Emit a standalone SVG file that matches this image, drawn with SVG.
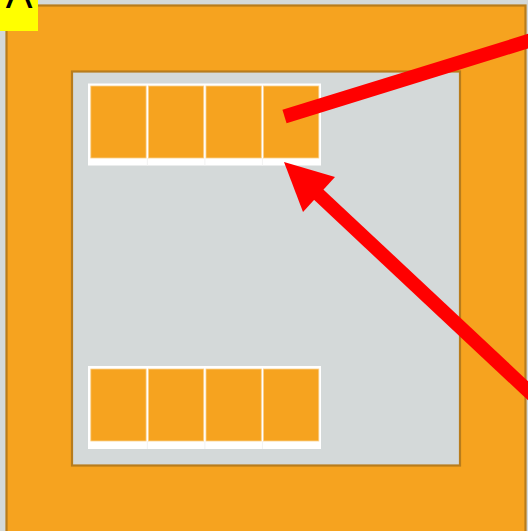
<svg xmlns="http://www.w3.org/2000/svg" width="528" height="531" viewBox="0 0 528 531">
<style>
.frame{fill:#f6a31f;stroke:#b87c1c;stroke-width:2.2}
.inner{fill:#d4d9d9;stroke:#b87c1c;stroke-width:2.2}
.tray{fill:#ffffff}
.cell{fill:#f6a31f;stroke:#fbcf8a;stroke-width:0.8}
.gapline{stroke:#f2f2f2;stroke-width:1}
.red{stroke:#ff0000;stroke-width:14;fill:none}
</style>
<rect x="0" y="0" width="528" height="531" fill="#d4d9d9"/>
<g id="outer"><rect class="frame" x="6.5" y="5.5" width="519" height="540"/></g>
<g id="inner"><rect class="inner" x="72" y="71.5" width="388" height="394"/></g>
<g id="row-top">
<rect class="tray" x="88" y="83.5" width="233" height="82"/>
<rect class="cell" x="90.8" y="86" width="55.3" height="72"/>
<rect class="cell" x="148.4" y="86" width="55.3" height="72"/>
<rect class="cell" x="206" y="86" width="55.3" height="72"/>
<rect class="cell" x="263.5" y="86" width="55.3" height="72"/>
<line class="gapline" x1="147.3" y1="158" x2="147.3" y2="165.5"/>
<line class="gapline" x1="204.9" y1="158" x2="204.9" y2="165.5"/>
<line class="gapline" x1="262.4" y1="158" x2="262.4" y2="165.5"/>
</g>
<g id="row-bottom">
<rect class="tray" x="88" y="366" width="233" height="83"/>
<rect class="cell" x="90.8" y="369" width="55.3" height="72"/>
<rect class="cell" x="148.4" y="369" width="55.3" height="72"/>
<rect class="cell" x="206" y="369" width="55.3" height="72"/>
<rect class="cell" x="263.5" y="369" width="55.3" height="72"/>
<line class="gapline" x1="147.3" y1="441" x2="147.3" y2="449"/>
<line class="gapline" x1="204.9" y1="441" x2="204.9" y2="449"/>
<line class="gapline" x1="262.4" y1="441" x2="262.4" y2="449"/>
</g>
<g id="label-A">
<rect x="0" y="0" width="38" height="31" fill="#ffff00"/>
<text x="19" y="8" font-family="Liberation Sans, Arial, sans-serif" font-size="40" text-anchor="middle" fill="#000000">A</text>
</g>
<g id="connectors">
<line class="red" x1="284.5" y1="116.5" x2="535" y2="39"/>
<line class="red" x1="540" y1="402" x2="318" y2="194"/>
<polygon points="284,162 335,177 303,212" fill="#ff0000"/>
</g>
</svg>
